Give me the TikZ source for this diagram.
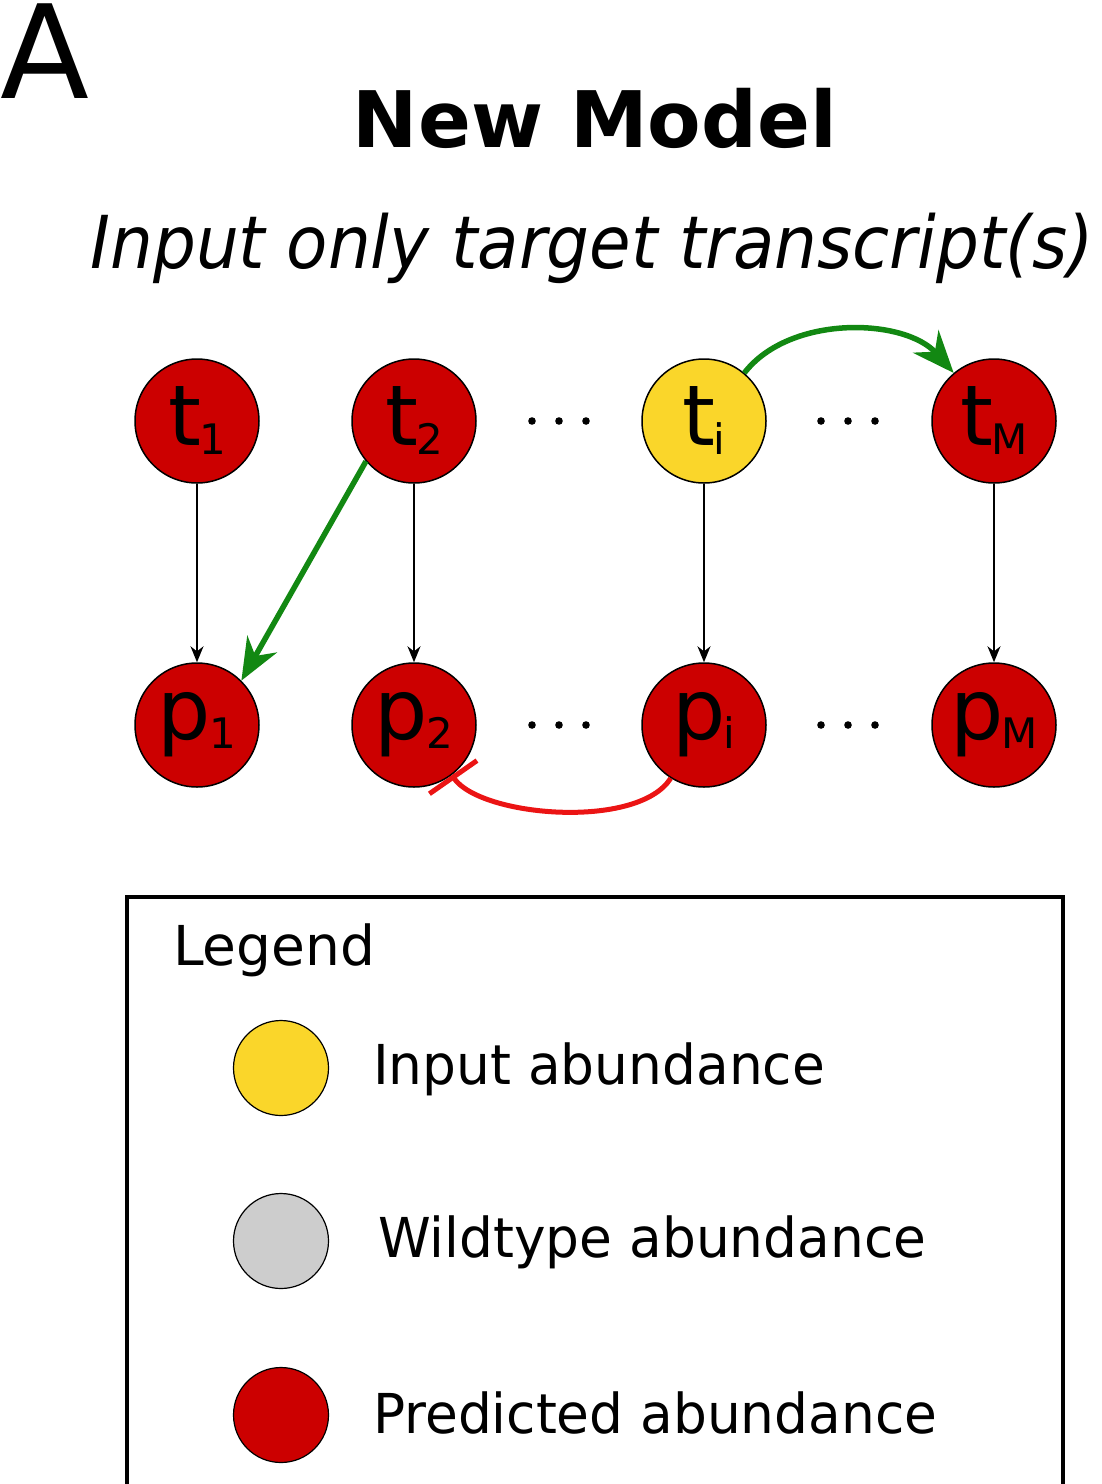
\documentclass[tikz,border=0pt]{standalone}
\usepackage{fontspec}
\setmainfont{DejaVu Sans}
\usetikzlibrary{arrows.meta}
\definecolor{nred}{RGB}{204,0,0}
\definecolor{nyel}{RGB}{250,214,42}
\definecolor{ngray}{RGB}{205,205,205}
\definecolor{ngreen}{RGB}{18,136,18}
\definecolor{ired}{RGB}{235,20,20}
\newcommand{\mlab}[2]{{\fontsize{84}{84}\selectfont #1}\kern-2pt\raisebox{-9pt}{\fontsize{42}{42}\selectfont #2}}
\newcommand{\hsq}[2]{\scalebox{#1}[1]{#2}}
\begin{document}
\begin{tikzpicture}[x=1pt,y=-1pt,
  mol/.style={circle,draw=black,line width=1.5pt,minimum size=124pt,inner sep=0pt},
  pred/.style={mol,fill=nred},
  inp/.style={mol,fill=nyel},
  leg/.style={circle,draw=black,line width=1.2pt,minimum size=95pt,inner sep=0pt},
  legtxt/.style={anchor=base west,inner sep=0pt,font=\fontsize{55}{55}\selectfont},
  conv/.style={draw=black,line width=1.8pt,-{Stealth[length=16pt,width=13pt]}},
  act/.style={draw=ngreen,line width=5.5pt,-{Stealth[length=42pt,width=34pt]}},
  inh/.style={draw=ired,line width=5pt,-{Bar[width=58pt,line width=5pt]}},
  dotm/.style={fill=black}
]
\useasboundingbox (0,0) rectangle (1101,1484);
\node[anchor=base west,inner sep=0pt] (panel) at (0,98) {\fontsize{130}{130}\selectfont A};
\node[anchor=base,inner sep=0pt] (title) at (595,147) {\fontsize{78}{78}\selectfont\bfseries New Model};
\node[anchor=base,inner sep=0pt] (sub) at (592,268) {\hsq{0.925}{\fontsize{73}{73}\selectfont\itshape Input only target transcript(s)}};

\node[pred] (t1) at (197,421) {\mlab{t}{1}};
\node[pred] (t2) at (414,421) {\mlab{t}{2}};
\node[inp]  (ti) at (704,421) {\mlab{t}{i}};
\node[pred] (tM) at (994,421) {\mlab{t}{M}};
\node[pred] (p1) at (197,725) {\mlab{p}{1}};
\node[pred] (p2) at (414,725) {\mlab{p}{2}};
\node[pred] (pi) at (704,725) {\mlab{p}{i}};
\node[pred] (pM) at (994,725) {\mlab{p}{M}};

\foreach \x in {532,559,586,821,848,875}{
  \fill[dotm] (\x,421) circle (3.8pt);
  \fill[dotm] (\x,725) circle (3.8pt);
}

\draw[conv] (t1) -- (p1);
\draw[conv] (t2) -- (p2);
\draw[conv] (ti) -- (pi);
\draw[conv] (tM) -- (pM);
\draw[act] (t2.220) -- (p1.45);
\draw[act] (ti.50) .. controls (790,314) and (905,318) .. (tM.130);
\draw[inh] (pi.238) .. controls (638,830) and (481,817) .. (p2.-53);

\draw[line width=4pt] (127,1484) -- (127,897) -- (1063,897) -- (1063,1484);
\node[legtxt] (legt) at (173,965) {Legend};
\node[leg,fill=nyel] (l1) at (281,1068) {};
\node[leg,fill=ngray] (l2) at (281,1241) {};
\node[leg,fill=nred] (l3) at (281,1415) {};
\node[legtxt] (lt1) at (373,1084) {\hsq{0.97}{Input abundance}};
\node[legtxt] (lt2) at (378,1257) {\hsq{0.97}{Wildtype abundance}};
\node[legtxt] (lt3) at (373,1433) {\hsq{0.97}{Predicted abundance}};
\end{tikzpicture}
\end{document}
